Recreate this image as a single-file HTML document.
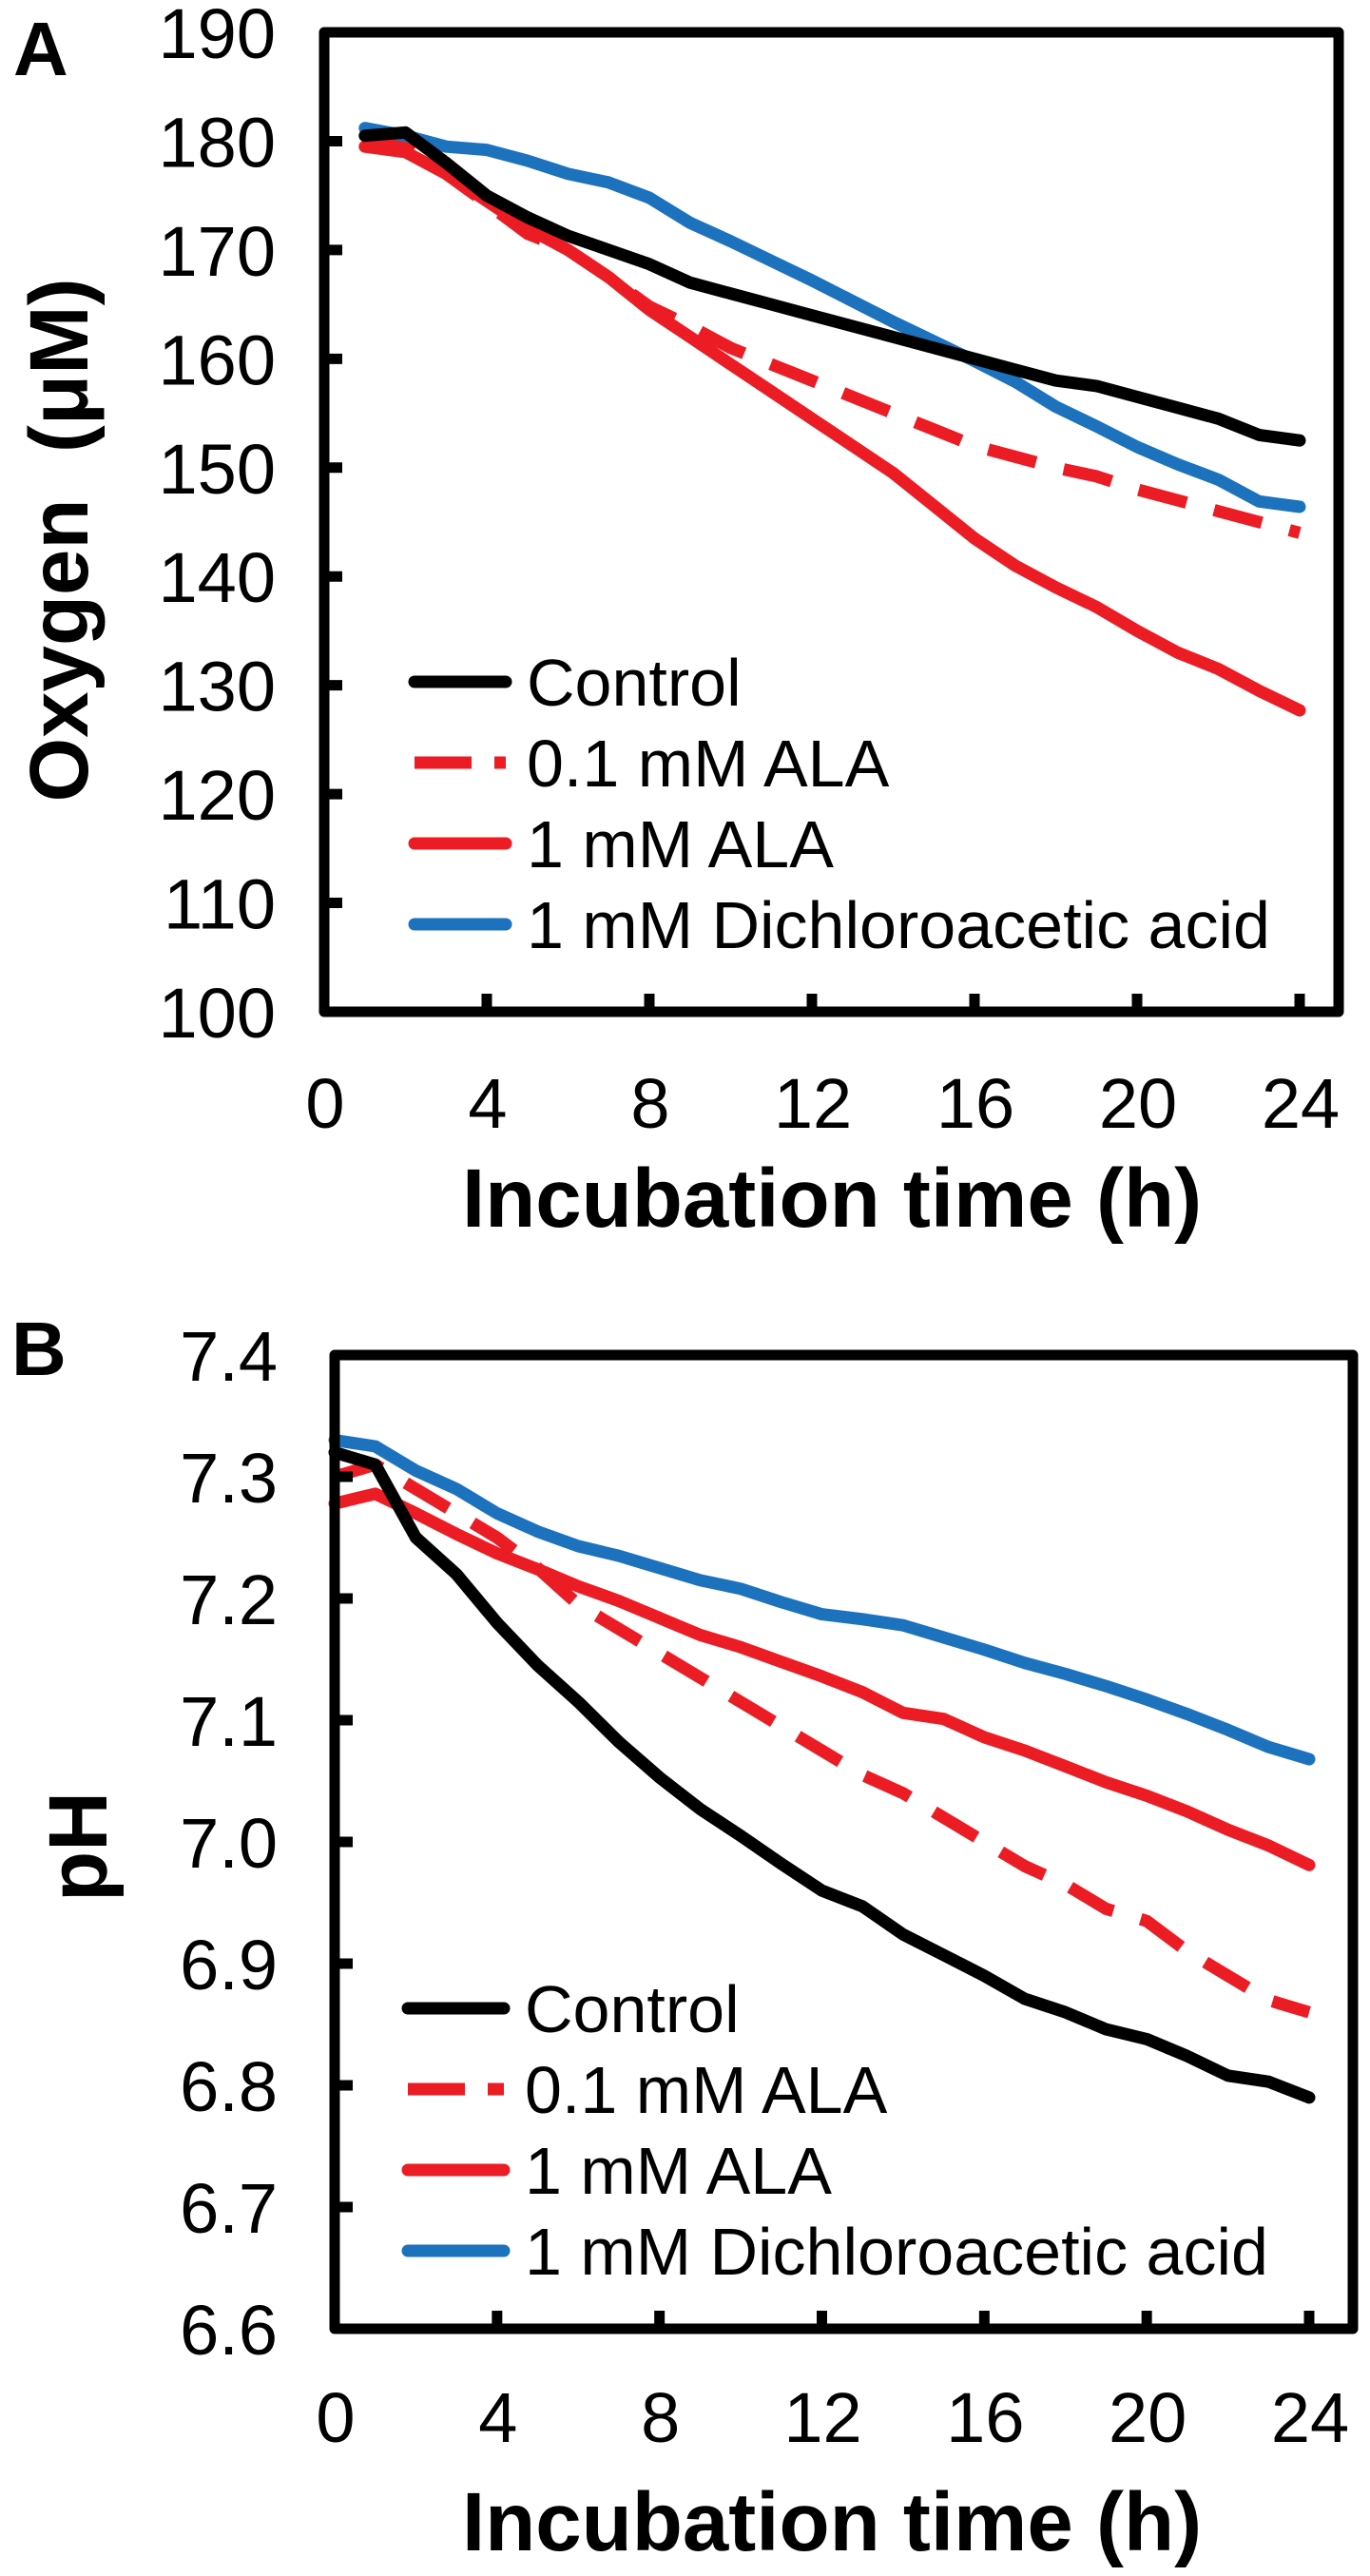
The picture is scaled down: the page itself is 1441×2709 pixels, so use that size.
<!DOCTYPE html>
<html><head><meta charset="utf-8"><style>
html,body{margin:0;padding:0;background:#fff}
svg{display:block}
text{font-family:"Liberation Sans",Arial,sans-serif;fill:#000}
</style></head><body>
<svg id="fig" width="1441" height="2709" viewBox="0 0 1441 2709" xmlns="http://www.w3.org/2000/svg"></svg>
<script>
const hoursA = [1,2,3,4,5,6,7,8,9,10,11,12,13,14,15,16,17,18,19,20,21,22,23,24];
const controlA = [180.5,180.8,178,175,173,171.3,170,168.7,167,166,165,164,163,162,161,160,159,158,157.5,156.5,155.5,154.5,153,152.5];
const ala01A = [179.8,179.5,177,174.3,171.5,170,167.5,164.8,163,161,159.5,158,156.5,155,153.5,152,151,150,149.2,148,147,146,145,144];
const ala1A = [179.5,179,177,174.5,172,170,167.5,164.5,162,159.5,157,154.5,152,149.5,146.5,143.5,141,139,137.2,135,133,131.5,129.5,127.7];
const dcaA = [181.2,180.5,179.5,179.2,178.2,177,176.2,174.8,172.5,170.8,169,167.2,165.3,163.4,161.6,159.8,157.9,155.6,153.8,151.9,150.3,148.9,146.9,146.4];
const yTicksA = ["100","110","120","130","140","150","160","170","180","190"];
const xTicks = ["0","4","8","12","16","20","24"];

const hoursB = [0,1,2,3,4,5,6,7,8,9,10,11,12,13,14,15,16,17,18,19,20,21,22,23,24];
const controlB = [7.32,7.31,7.25,7.22,7.18,7.145,7.115,7.082,7.053,7.027,7.005,6.982,6.96,6.947,6.924,6.907,6.89,6.871,6.86,6.846,6.838,6.824,6.808,6.803,6.79];
const ala01B = [7.3,7.31,7.29,7.27,7.25,7.225,7.195,7.175,7.155,7.135,7.115,7.095,7.075,7.055,7.04,7.02,7.0,6.98,6.965,6.945,6.935,6.91,6.89,6.87,6.86];
const ala1B = [7.278,7.286,7.27,7.253,7.237,7.224,7.21,7.198,7.184,7.17,7.16,7.148,7.136,7.123,7.106,7.101,7.086,7.075,7.062,7.049,7.038,7.025,7.01,6.997,6.981];
const dcaB = [7.33,7.325,7.305,7.29,7.27,7.255,7.243,7.235,7.225,7.215,7.208,7.197,7.187,7.183,7.178,7.168,7.158,7.147,7.138,7.128,7.117,7.105,7.092,7.078,7.068];
const yTicksB = ["6.6","6.7","6.8","6.9","7.0","7.1","7.2","7.3","7.4"];
const legendLabels = ["Control","0.1 mM ALA","1 mM ALA","1 mM Dichloroacetic acid"];

const NS = "http://www.w3.org/2000/svg";
const svg = document.getElementById('fig');
function mk(tag, attrs, parent){
  const e = document.createElementNS(NS, tag);
  for (const k in attrs) e.setAttribute(k, attrs[k]);
  (parent||svg).appendChild(e);
  return e;
}
const RED = "#ec1c24", BLUE = "#1c72bd", BLACK = "#000";
const styles = [
  {c:BLACK, dash:null},
  {c:RED, dash:"52 30"},
  {c:RED, dash:null},
  {c:BLUE, dash:null}
];

function panel(cfg){
  const g = mk('g', {});
  
  
  const L=cfg.left, R=cfg.right, T=cfg.top, B=cfg.bottom;
  const x0=cfg.x0, x24=cfg.x24;
  const xs = h => x0 + (x24-x0)*h/24;
  const ys = v => B - (v-cfg.ymin)/(cfg.ymax-cfg.ymin)*(B-T);
  // series
  const groups = [cfg.series[0],cfg.series[1],cfg.series[2],cfg.series[3]];
  const order = [2,1,3,0];
  const names = ['control-line','ala-0-1mm-line','ala-1mm-line','dca-line'];
  order.forEach(i=>{
    const d = groups[i].map((v,j)=>(j?'L':'M')+xs(cfg.hours[j]).toFixed(1)+' '+ys(v).toFixed(1)).join(' ');
    const p = mk('path',{d:d,fill:'none',stroke:styles[i].c,'stroke-width':13,'stroke-linejoin':'round','stroke-linecap':'round'},g);
    if(styles[i].dash){p.setAttribute('stroke-dasharray',styles[i].dash);p.setAttribute('stroke-linecap','butt');}
    
    
  });
  // frame
  const fr = mk('rect',{x:L,y:T,width:R-L,height:B-T,fill:'none',stroke:'#000','stroke-width':11,'stroke-linejoin':'round'},g);
  
  
  // y ticks
  cfg.yTicks.forEach(t=>{
    const y = ys(parseFloat(t));
    const tk = mk('line',{x1:L,x2:L+19,y1:y,y2:y,stroke:'#000','stroke-width':11},g);
    
    
    const tx = mk('text',{x:cfg.yLabRight,y:y+27,'text-anchor':'end','font-size':74},g);
    tx.textContent = t;
    
    
  });
  // x ticks
  xTicks.forEach(t=>{
    const x = xs(parseFloat(t));
    const tk = mk('line',{x1:x,x2:x,y1:B,y2:B-19,stroke:'#000','stroke-width':11},g);
    
    
    const tx = mk('text',{x:x+1,y:cfg.xLabBase,'text-anchor':'middle','font-size':74},g);
    tx.textContent = t;
    
    
  });
  // x title
  const xt = mk('text',{x:875,y:cfg.xTitleBase,'text-anchor':'middle','font-size':87,'font-weight':'bold'},g);
  xt.textContent = 'Incubation time (h)';
  
  
  // y title
  const yt = mk('text',{x:0,y:0,'text-anchor':'middle','font-size':87,'font-weight':'bold','transform':'translate('+cfg.yTitleX+','+cfg.yTitleY+') rotate(-90)'},g);
  yt.textContent = cfg.yTitle;
  yt.setAttribute('xml:space','preserve');
  yt.style.whiteSpace='pre';
  
  
  // panel letter
  const pl = mk('text',{x:cfg.letterX,y:cfg.letterY,'font-size':80,'font-weight':'bold'},g);
  pl.textContent = cfg.letter;
  
  
  // legend
  const lg = mk('g',{},g);
  
  
  legendLabels.forEach((lab,i)=>{
    const y = cfg.legY[i];
    const ln = mk('line',{x1:cfg.legX1,x2:cfg.legX2,y1:y,y2:y,stroke:styles[i].c,'stroke-width':13,'stroke-linecap':'round'},lg);
    if(styles[i].dash){ln.setAttribute('stroke-dasharray','60 24');ln.setAttribute('stroke-linecap','butt');}
    
    
    const tx = mk('text',{x:cfg.legTextX,y:y+25,'font-size':70},lg);
    tx.textContent = lab;
    
    
  });
}

panel({name:'panel-a-oxygen', left:341,right:1408,top:34,bottom:1064,x0:341,x24:1367,
  ymin:100,ymax:190,hours:hoursA,series:[controlA,ala01A,ala1A,dcaA],yTicks:yTicksA,
  yLabRight:290,xLabBase:1186,xTitleBase:1290,yTitle:'Oxygen  (\u03bcM)',yTitleX:92,yTitleY:568,
  letter:'A',letterX:14,letterY:79,legY:[717,802,887,972],legX1:436,legX2:532,legTextX:554});

panel({name:'panel-b-ph', left:352,right:1423,top:1425,bottom:2449,x0:352,x24:1377,
  ymin:6.6,ymax:7.4,hours:hoursB,series:[controlB,ala01B,ala1B,dcaB],yTicks:yTicksB,
  yLabRight:292,xLabBase:2568,xTitleBase:2682,yTitle:'pH',yTitleX:112,yTitleY:1942,
  letter:'B',letterX:12,letterY:1446,legY:[2112,2197,2282,2367],legX1:429,legX2:530,legTextX:552});
</script>
</body></html>
